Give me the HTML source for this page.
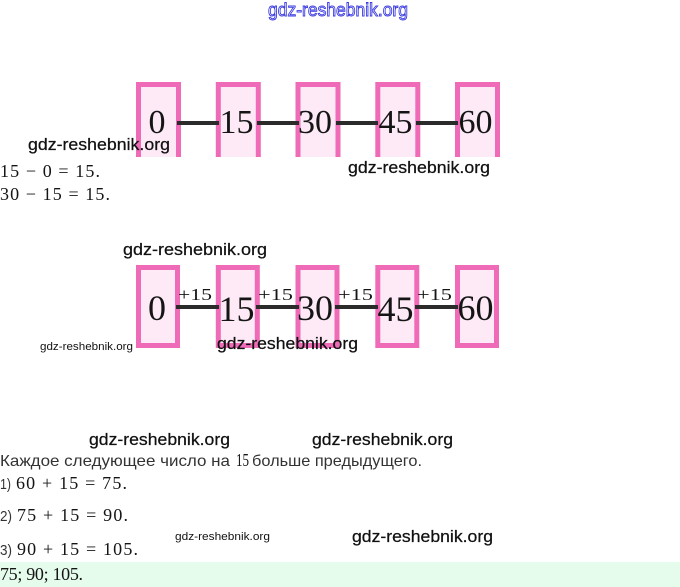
<!DOCTYPE html>
<html><head><meta charset="utf-8"><style>
html,body{margin:0;padding:0;background:#fff;}
svg{display:block;}
.wm{font-family:"Liberation Sans",sans-serif;font-size:17px;fill:#111;stroke:#111;stroke-width:0.25;}
.wms{font-family:"Liberation Sans",sans-serif;font-size:11px;fill:#111;}
.ser{font-family:"Liberation Serif",serif;fill:#151515;}
.san{font-family:"Liberation Sans","Noto Sans CJK SC",sans-serif;fill:#333;}
</style></head><body>
<svg width="680" height="587" viewBox="0 0 680 587" xmlns="http://www.w3.org/2000/svg">
<rect width="680" height="587" fill="#fff"/>
<!-- top blue watermark -->
<text x="268" y="16" font-family="Liberation Sans, sans-serif" font-size="18" fill="#fff" stroke="#3b3be0" stroke-width="0.9" textLength="140" lengthAdjust="spacingAndGlyphs">gdz-reshebnik.org</text>

<!-- Diagram 1 -->
<g fill="#fdeaf6" stroke="none">
<rect x="138" y="84" width="41" height="73"/>
<rect x="218" y="84" width="41" height="73"/>
<rect x="297" y="84" width="41" height="73"/>
<rect x="377" y="84" width="41" height="73"/>
<rect x="457" y="84" width="41" height="73"/>
</g>
<g fill="none" stroke="#ef6bb7" stroke-width="5">
<path d="M138.5 157 V84.5 H178.5 V157"/>
<path d="M218.3 157 V84.5 H258.3 V157"/>
<path d="M298 157 V84.5 H338 V157"/>
<path d="M377.8 157 V84.5 H417.8 V157"/>
<path d="M457.5 157 V84.5 H497.5 V157"/>
</g>
<g stroke="#2b2b2b" stroke-width="4">
<line x1="177" y1="123" x2="219" y2="123"/>
<line x1="257" y1="123" x2="299" y2="123"/>
<line x1="336" y1="123" x2="378" y2="123"/>
<line x1="416" y1="123" x2="458" y2="123"/>
</g>
<g class="ser" font-size="34" text-anchor="middle">
<text x="157" y="133">0</text>
<text x="236.5" y="133">15</text>
<text x="315" y="133">30</text>
<text x="395.5" y="133">45</text>
<text x="475.5" y="133">60</text>
</g>

<text class="wm" x="28" y="150" textLength="142" lengthAdjust="spacingAndGlyphs">gdz-reshebnik.org</text>
<text class="wm" x="348" y="173" textLength="142" lengthAdjust="spacingAndGlyphs">gdz-reshebnik.org</text>

<text class="ser" x="0" y="177" font-size="18" textLength="100" lengthAdjust="spacing">15 − 0 = 15.</text>
<text class="ser" x="0" y="200" font-size="18" textLength="110" lengthAdjust="spacing">30 − 15 = 15.</text>

<text class="wm" x="123" y="255" textLength="144" lengthAdjust="spacingAndGlyphs">gdz-reshebnik.org</text>

<!-- Diagram 2 -->
<g fill="#fdeaf6" stroke="#ef6bb7" stroke-width="5">
<rect x="138.5" y="267.5" width="39" height="78"/>
<rect x="218.3" y="267.5" width="39" height="78"/>
<rect x="298" y="267.5" width="39" height="78"/>
<rect x="377.8" y="267.5" width="39" height="78"/>
<rect x="457.5" y="267.5" width="39" height="78"/>
</g>
<g stroke="#2b2b2b" stroke-width="4">
<line x1="176" y1="307" x2="219" y2="307"/>
<line x1="256" y1="307" x2="299" y2="307"/>
<line x1="335" y1="307" x2="378" y2="307"/>
<line x1="415" y1="307" x2="458" y2="307"/>
</g>
<g class="ser" font-size="17">
<text x="178" y="300" textLength="34" lengthAdjust="spacingAndGlyphs">+15</text>
<text x="258" y="300" textLength="35" lengthAdjust="spacingAndGlyphs">+15</text>
<text x="338" y="300" textLength="35" lengthAdjust="spacingAndGlyphs">+15</text>
<text x="417" y="300" textLength="35" lengthAdjust="spacingAndGlyphs">+15</text>
</g>
<g class="ser" font-size="36" text-anchor="middle">
<text x="157" y="320">0</text>
<text x="236.5" y="321">15</text>
<text x="315" y="320">30</text>
<text x="395.5" y="321">45</text>
<text x="475.5" y="320">60</text>
</g>

<text class="wms" x="40" y="350" textLength="93" lengthAdjust="spacingAndGlyphs">gdz-reshebnik.org</text>
<text class="wm" x="217" y="349" textLength="141" lengthAdjust="spacingAndGlyphs">gdz-reshebnik.org</text>

<text class="wm" x="89" y="445" textLength="141" lengthAdjust="spacingAndGlyphs">gdz-reshebnik.org</text>
<text class="wm" x="312" y="445" textLength="141" lengthAdjust="spacingAndGlyphs">gdz-reshebnik.org</text>

<text class="san" x="0" y="466" font-size="16" textLength="230" lengthAdjust="spacingAndGlyphs">Каждое следующее число на</text>
<text class="ser" x="236" y="466" font-size="18" textLength="13" lengthAdjust="spacingAndGlyphs">15</text>
<text class="san" x="252" y="466" font-size="16" textLength="170" lengthAdjust="spacingAndGlyphs">больше предыдущего.</text>

<text class="san" x="0" y="489" font-size="15" textLength="11" lengthAdjust="spacingAndGlyphs">1)</text>
<text class="ser" x="16" y="489" font-size="18" textLength="111" lengthAdjust="spacing">60 + 15 = 75.</text>
<text class="san" x="0" y="521" font-size="15" textLength="12" lengthAdjust="spacingAndGlyphs">2)</text>
<text class="ser" x="17" y="521" font-size="18" textLength="111" lengthAdjust="spacing">75 + 15 = 90.</text>
<text class="san" x="0" y="555" font-size="15" textLength="12" lengthAdjust="spacingAndGlyphs">3)</text>
<text class="ser" x="17" y="555" font-size="18" textLength="121" lengthAdjust="spacing">90 + 15 = 105.</text>

<text class="wms" x="175" y="540" textLength="95" lengthAdjust="spacingAndGlyphs">gdz-reshebnik.org</text>
<text class="wm" x="352" y="542" textLength="141" lengthAdjust="spacingAndGlyphs">gdz-reshebnik.org</text>

<rect x="0" y="562" width="680" height="25" fill="#e5fbec"/>
<text class="ser" x="0" y="580" font-size="18" textLength="83" lengthAdjust="spacing">75; 90; 105.</text>
</svg>
</body></html>
